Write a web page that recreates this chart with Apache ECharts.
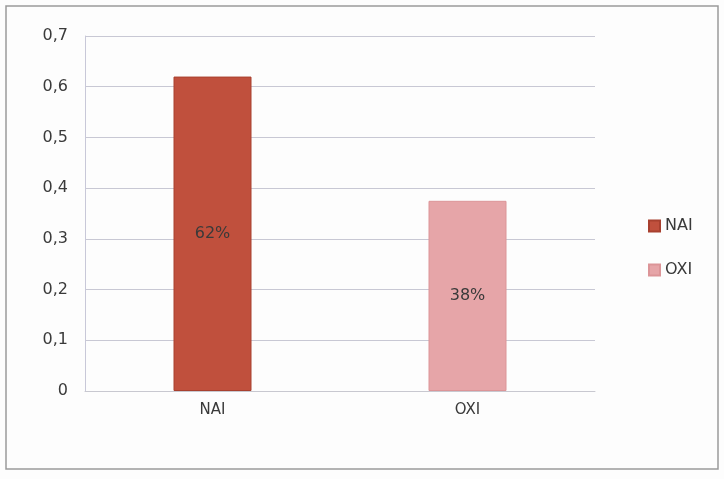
<!DOCTYPE html>
<html>
<head>
<meta charset="utf-8">
<script src="https://cdn.jsdelivr.net/npm/echarts@6/dist/echarts.min.js"></script>
<style>
  html, body { margin: 0; padding: 0; background: #fff; }
  #chartDiv { width: 724px; height: 479px; }
</style>
</head>
<body>
<div id="chartDiv"></div>
<script>
var myChart = echarts.init(document.getElementById('chartDiv'));

var categories = ['NAI', 'OXI'];
var values = [0.62, 0.375];
var pctLabels = ['62%', '38%'];
var barColors = ['#c0503d', '#e6a5a8'];
var yTicks = [0, 0.1, 0.2, 0.3, 0.4, 0.5, 0.6, 0.7];

var series = categories.map(function (name, i) {
    var d = categories.map(function (c, j) { return j === i ? values[i] : '-'; });
    return {
        name: name,
        type: 'bar',
        stack: 'one',
        data: d,
        barWidth: 78,
        itemStyle: {
            color: barColors[i],
            borderColor: i === 0 ? '#a8402f' : '#dc9598',
            borderWidth: 1
        },
        label: {
            show: true,
            position: 'inside',
            color: '#3a3a3a',
            fontSize: 16,
            fontFamily: 'DejaVu Sans',
            formatter: function () { return pctLabels[i]; }
        }
    };
});

option = {
    backgroundColor: '#fdfdfd',
    animation: false,
    graphic: [{
        type: 'rect',
        shape: { x: 6, y: 6, width: 712, height: 463 },
        style: { fill: 'none', stroke: '#9a9a9a', lineWidth: 1.5 },
        silent: true
    }],
    grid: { left: 85, right: 129, top: 36, bottom: 88, containLabel: false },
    legend: {
        orient: 'vertical',
        left: 643,
        top: 213,
        icon: 'rect',
        itemWidth: 11,
        itemHeight: 11,
        itemGap: 28,
        textStyle: { color: '#3a3a3a', fontSize: 16, fontFamily: 'DejaVu Sans' },
        data: categories
    },
    xAxis: {
        type: 'category',
        data: categories,
        axisLine: { show: true, lineStyle: { color: '#c8c8d0' } },
        axisTick: { show: false },
        axisLabel: { color: '#3a3a3a', fontSize: 15, fontFamily: 'DejaVu Sans', margin: 12 }
    },
    yAxis: {
        type: 'value',
        min: 0,
        max: 0.7,
        interval: 0.1,
        axisLine: { show: true, lineStyle: { color: '#c8c8d8' } },
        axisTick: { show: false },
        splitLine: { show: true, lineStyle: { color: '#c8c8d4' } },
        axisLabel: {
            color: '#3a3a3a',
            fontSize: 16,
            fontFamily: 'DejaVu Sans',
            margin: 17,
            formatter: function (v) {
                var t = yTicks.reduce(function (a, b) { return Math.abs(b - v) < Math.abs(a - v) ? b : a; });
                return t === 0 ? '0' : t.toFixed(1).replace('.', ',');
            }
        }
    },
    series: series
};
myChart.setOption(option);
</script>
</body>
</html>
